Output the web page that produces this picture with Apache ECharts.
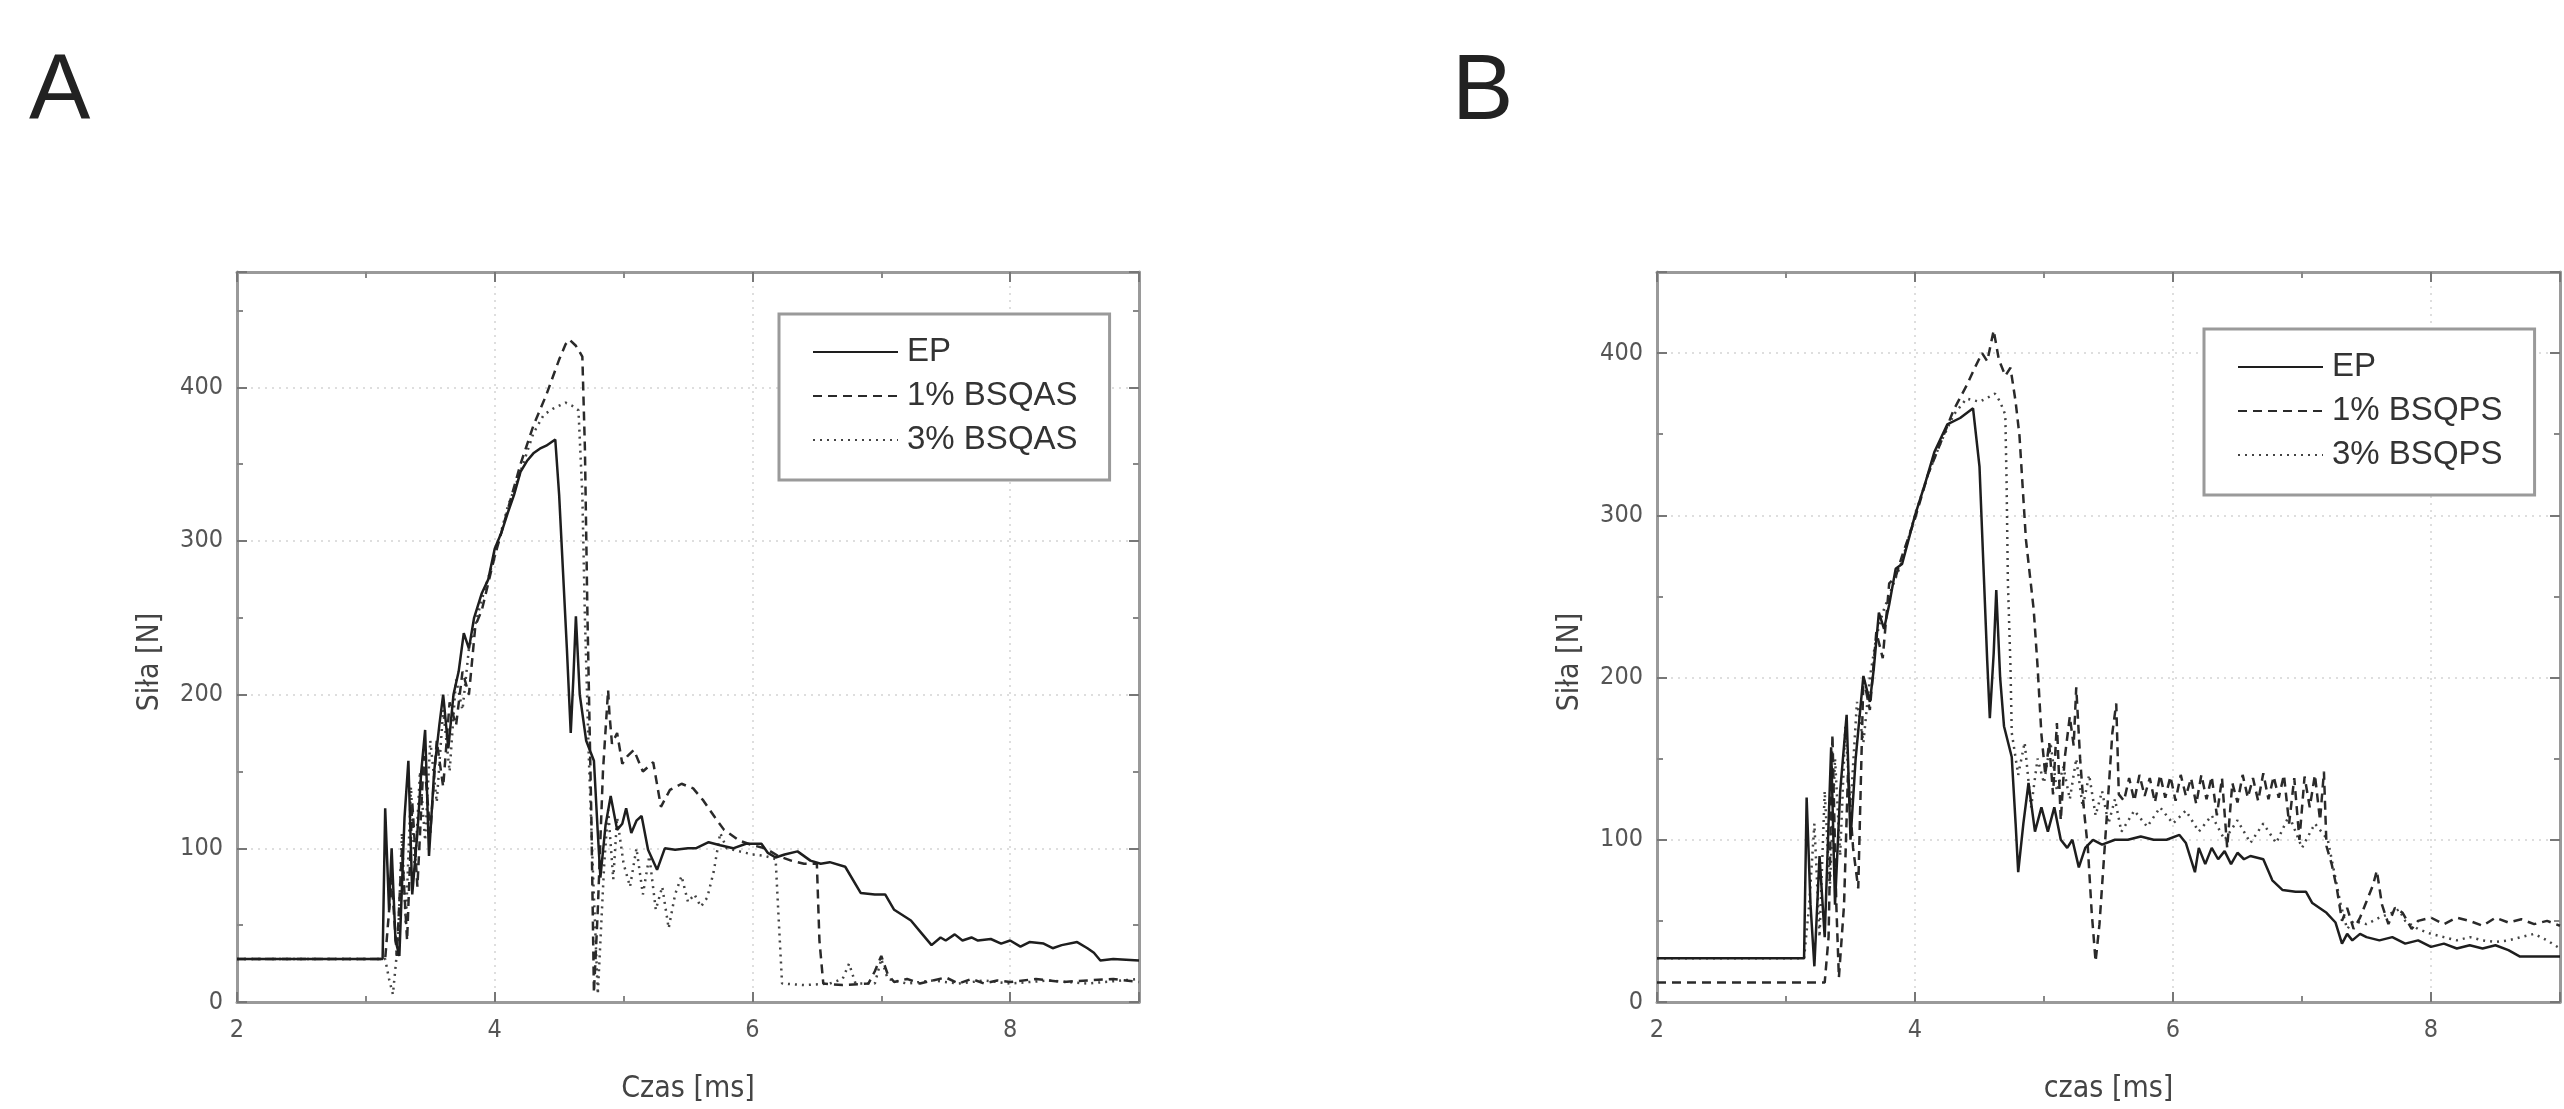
<!DOCTYPE html>
<html>
<head>
<meta charset="utf-8">
<script src="https://cdn.jsdelivr.net/npm/echarts@6/dist/echarts.min.js"></script>
<style>
html,body{margin:0;padding:0;background:#fff;}
#chart{width:2564px;height:1109px;}
</style>
</head>
<body>
<div id="chart"></div>
<script>
// ---------- DATA ----------
const xTicksA = [2, 4, 6, 8];
const yTicksA = [0, 100, 200, 300, 400];
const xTicksB = [2, 4, 6, 8];
const yTicksB = [0, 100, 200, 300, 400];

const namesA = ['EP', '1% BSQAS', '3% BSQAS'];
const namesB = ['EP', '1% BSQPS', '3% BSQPS'];

// Panel A: time [ms], force [N]
const epA = [[2,28],[3.13,28],[3.15,126],[3.18,60],[3.2,100],[3.23,40],[3.26,30],[3.3,120],[3.33,157],[3.36,70],[3.4,110],[3.43,150],[3.46,177],[3.49,95],[3.53,150],[3.57,180],[3.6,200],[3.64,165],[3.68,200],[3.72,215],[3.76,240],[3.8,230],[3.84,250],[3.9,266],[3.95,275],[4.0,295],[4.05,305],[4.1,318],[4.15,330],[4.2,345],[4.25,352],[4.3,357],[4.35,360],[4.4,362],[4.47,366],[4.5,330],[4.53,280],[4.56,230],[4.59,175],[4.61,210],[4.63,251],[4.66,200],[4.71,170],[4.77,157],[4.8,110],[4.82,81],[4.86,115],[4.9,134],[4.95,112],[4.99,116],[5.02,126],[5.06,110],[5.1,118],[5.14,121],[5.19,99],[5.26,86],[5.32,100],[5.4,99],[5.5,100],[5.56,100],[5.66,104],[5.75,102],[5.85,100],[5.95,103],[6.07,103],[6.12,97],[6.18,94],[6.25,96],[6.35,98],[6.45,92],[6.53,90],[6.6,91],[6.72,88],[6.84,71],[6.95,70],[7.03,70],[7.1,60],[7.23,53],[7.31,45],[7.39,37],[7.46,42],[7.5,40],[7.57,44],[7.63,40],[7.7,42],[7.75,40],[7.85,41],[7.93,38],[8.0,40],[8.08,36],[8.15,39],[8.26,38],[8.33,35],[8.4,37],[8.52,39],[8.6,35],[8.65,32],[8.7,27],[8.8,28],[9.0,27]];
const dashA = [[2,28],[3.15,28],[3.2,80],[3.24,30],[3.28,100],[3.32,40],[3.36,130],[3.4,75],[3.45,160],[3.5,110],[3.55,170],[3.6,140],[3.65,195],[3.7,180],[3.75,215],[3.8,200],[3.85,245],[3.9,255],[4.0,290],[4.1,320],[4.2,350],[4.3,375],[4.4,395],[4.5,418],[4.55,428],[4.58,431],[4.63,427],[4.68,420],[4.7,360],[4.72,250],[4.75,120],[4.77,6],[4.8,60],[4.84,150],[4.88,203],[4.89,188],[4.91,168],[4.95,175],[4.99,155],[5.03,160],[5.08,164],[5.15,150],[5.23,156],[5.29,127],[5.36,138],[5.45,142],[5.54,139],[5.62,131],[5.71,120],[5.78,112],[5.9,105],[6.0,102],[6.1,100],[6.2,95],[6.3,92],[6.4,90],[6.5,90],[6.52,40],[6.55,12],[6.7,11],[6.9,12],[6.95,20],[7.0,30],[7.05,18],[7.1,13],[7.2,15],[7.3,12],[7.4,14],[7.5,16],[7.6,12],[7.7,15],[7.8,12],[7.9,14],[8.0,13],[8.2,15],[8.4,13],[8.6,14],[8.8,15],[9.0,13]];
const dotA = [[2,28],[3.15,28],[3.18,15],[3.21,5],[3.25,40],[3.28,110],[3.31,50],[3.35,140],[3.38,85],[3.42,150],[3.46,105],[3.5,170],[3.55,130],[3.6,190],[3.65,150],[3.7,210],[3.75,190],[3.8,230],[3.9,262],[4.0,290],[4.1,322],[4.2,345],[4.3,370],[4.38,382],[4.45,386],[4.5,388],[4.55,390],[4.6,388],[4.65,385],[4.68,330],[4.7,250],[4.73,160],[4.76,90],[4.8,5],[4.85,90],[4.88,125],[4.92,80],[4.95,120],[5.0,90],[5.05,75],[5.1,100],[5.15,70],[5.2,95],[5.25,60],[5.3,75],[5.35,48],[5.4,70],[5.45,82],[5.5,65],[5.55,70],[5.6,62],[5.65,68],[5.7,85],[5.75,110],[5.8,100],[5.9,98],[6.0,96],[6.1,95],[6.18,93],[6.2,60],[6.23,12],[6.4,11],[6.6,12],[6.7,15],[6.75,25],[6.8,12],[6.95,12],[7.0,28],[7.05,15],[7.2,12],[7.4,14],[7.6,12],[7.8,14],[8.0,12],[8.3,14],[8.6,12],[9.0,15]];

// Panel B
const epB = [[2,27],[3.14,27],[3.16,126],[3.19,60],[3.22,22],[3.26,90],[3.3,40],[3.35,157],[3.38,60],[3.42,130],[3.47,177],[3.5,100],[3.54,150],[3.6,201],[3.65,185],[3.68,205],[3.72,240],[3.76,230],[3.8,245],[3.85,267],[3.9,270],[4.0,300],[4.08,320],[4.15,339],[4.25,356],[4.35,360],[4.45,366],[4.5,330],[4.53,270],[4.56,210],[4.58,175],[4.61,215],[4.63,254],[4.66,200],[4.69,170],[4.75,151],[4.78,110],[4.8,80],[4.84,110],[4.88,135],[4.93,105],[4.98,120],[5.03,105],[5.08,120],[5.13,100],[5.18,95],[5.22,100],[5.27,83],[5.32,95],[5.38,100],[5.45,97],[5.55,100],[5.65,100],[5.75,102],[5.85,100],[5.95,100],[6.05,103],[6.1,98],[6.17,80],[6.2,95],[6.25,85],[6.3,95],[6.35,88],[6.4,93],[6.45,85],[6.5,92],[6.55,88],[6.6,90],[6.7,88],[6.77,75],[6.85,69],[6.95,68],[7.03,68],[7.08,61],[7.19,55],[7.26,49],[7.31,36],[7.35,42],[7.39,38],[7.45,42],[7.5,40],[7.6,38],[7.7,40],[7.8,36],[7.9,38],[8.0,34],[8.1,36],[8.2,33],[8.3,35],[8.4,33],[8.5,35],[8.6,32],[8.69,28],[9.0,28]];
const dashB = [[2,12],[3.3,12],[3.33,40],[3.36,165],[3.39,60],[3.41,15],[3.45,60],[3.48,140],[3.52,95],[3.56,70],[3.6,200],[3.65,180],[3.7,228],[3.75,212],[3.8,258],[3.85,262],[3.9,275],[4.0,298],[4.1,325],[4.2,345],[4.3,365],[4.4,380],[4.47,392],[4.52,400],[4.56,395],[4.61,414],[4.65,396],[4.7,386],[4.74,391],[4.78,370],[4.81,349],[4.86,285],[4.92,242],[4.95,207],[4.98,165],[5.01,140],[5.04,160],[5.07,128],[5.1,172],[5.13,112],[5.16,150],[5.2,176],[5.23,158],[5.25,194],[5.28,150],[5.31,118],[5.34,95],[5.37,55],[5.4,25],[5.43,48],[5.46,83],[5.5,130],[5.53,166],[5.56,184],[5.58,128],[5.62,124],[5.66,138],[5.7,124],[5.74,140],[5.78,127],[5.82,138],[5.86,123],[5.9,140],[5.94,126],[5.98,139],[6.02,124],[6.06,140],[6.1,127],[6.14,138],[6.18,122],[6.22,140],[6.26,125],[6.3,139],[6.34,115],[6.38,138],[6.42,95],[6.46,135],[6.5,123],[6.54,140],[6.58,126],[6.62,138],[6.66,124],[6.7,141],[6.74,125],[6.78,139],[6.82,126],[6.86,140],[6.9,110],[6.94,138],[6.98,100],[7.02,139],[7.06,120],[7.1,140],[7.14,112],[7.17,142],[7.19,96],[7.23,85],[7.27,70],[7.31,50],[7.35,58],[7.4,45],[7.45,52],[7.5,62],[7.55,72],[7.58,81],[7.62,60],[7.67,48],[7.72,58],[7.78,55],[7.85,45],[7.9,50],[8.0,52],[8.1,48],[8.2,52],[8.3,50],[8.4,47],[8.5,52],[8.6,49],[8.7,51],[8.8,48],[8.9,50],[9.0,47]];
const dotB = [[2,27],[3.14,27],[3.18,60],[3.22,110],[3.26,40],[3.3,130],[3.34,70],[3.38,150],[3.42,90],[3.46,170],[3.5,120],[3.55,185],[3.6,160],[3.65,200],[3.7,225],[3.75,240],[3.82,255],[3.9,272],[4.0,300],[4.1,325],[4.2,345],[4.3,362],[4.4,372],[4.5,370],[4.55,372],[4.62,375],[4.66,370],[4.7,362],[4.71,320],[4.72,259],[4.74,207],[4.75,166],[4.8,140],[4.85,160],[4.9,120],[4.95,150],[5.0,135],[5.05,160],[5.1,130],[5.15,145],[5.2,125],[5.25,150],[5.3,120],[5.35,140],[5.4,115],[5.45,130],[5.5,110],[5.55,125],[5.6,105],[5.7,118],[5.8,108],[5.9,120],[6.0,110],[6.1,118],[6.2,105],[6.3,115],[6.4,100],[6.5,112],[6.6,98],[6.7,110],[6.8,98],[6.9,115],[7.0,95],[7.1,110],[7.2,100],[7.25,80],[7.3,60],[7.35,45],[7.4,50],[7.5,48],[7.6,52],[7.7,55],[7.75,57],[7.8,50],[7.9,45],[8.0,42],[8.1,40],[8.2,38],[8.3,40],[8.4,38],[8.5,37],[8.6,38],[8.7,40],[8.8,42],[8.9,38],[9.0,33]];

// ---------- CHART ----------
const NARROW = '"Liberation Sans Narrow","DejaVu Sans Condensed","Arial Narrow",sans-serif';
const SANS = '"Liberation Sans",Arial,sans-serif';
const FRAME = '#9a9a9a';

function xAx(grid, pos, name, ticks) {
  const main = pos === 'bottom';
  return {
    gridIndex: grid, type: 'value', position: pos, min: ticks[0], max: 9, interval: 2,
    name: main ? name : '', nameLocation: 'middle', nameGap: 72,
    nameTextStyle: {fontFamily: NARROW, fontSize: 30, color: '#444'},
    axisLine: {show: true, onZero: false, lineStyle: {color: FRAME, width: 3}},
    axisTick: {show: true, inside: true, length: 10, lineStyle: {color: '#777', width: 2}},
    minorTick: {show: true, splitNumber: 2, length: 6, lineStyle: {color: '#888', width: 2}},
    splitLine: {show: main, lineStyle: {color: '#d4d4d4', width: 1.5, type: [2, 5]}},
    axisLabel: {show: main, showMaxLabel: false, margin: 16, fontFamily: NARROW, fontSize: 25, color: '#555',
      formatter: v => ticks.includes(v) ? String(v) : ''}
  };
}
function yAx(grid, pos, max, ticks) {
  const main = pos === 'left';
  return {
    gridIndex: grid, type: 'value', position: pos, min: ticks[0], max: max, interval: 100,
    name: main ? 'Siła [N]' : '', nameLocation: 'middle', nameGap: 72, nameRotate: 90,
    nameTextStyle: {fontFamily: NARROW, fontSize: 30, color: '#444', padding: [0, 50, 0, 0]},
    axisLine: {show: true, onZero: false, lineStyle: {color: FRAME, width: 3}},
    axisTick: {show: true, inside: true, length: 10, lineStyle: {color: '#777', width: 2}},
    minorTick: {show: true, splitNumber: 2, length: 6, lineStyle: {color: '#888', width: 2}},
    splitLine: {show: main, lineStyle: {color: '#d4d4d4', width: 1.5, type: [2, 5]}},
    axisLabel: {show: main, showMaxLabel: false, margin: 14, fontFamily: NARROW, fontSize: 25, color: '#555',
      formatter: v => ticks.includes(v) ? String(v) : ''}
  };
}
const styles = [
  {color: '#1e1e1e', width: 2.5, type: 'solid'},
  {color: '#2a2a2a', width: 2.5, type: [9, 6]},
  {color: '#444', width: 2.5, type: [2, 5]}
];
function line(name, data, xi, yi, k) {
  return {type: 'line', name, data, xAxisIndex: xi, yAxisIndex: yi, symbol: 'none', showSymbol: false,
    lineStyle: styles[k], itemStyle: {color: styles[k].color}, z: 3 - k, animation: false};
}
function legend(left, top, names) {
  return {orient: 'vertical', left, top, data: names, itemWidth: 85, itemHeight: 14, itemGap: 8,
    padding: [20, 32, 22, 33], borderColor: FRAME, borderWidth: 3, backgroundColor: '#fff',
    selectedMode: false, itemStyle: {opacity: 0, borderWidth: 0},
    textStyle: {fontFamily: SANS, fontSize: 33, color: '#333', lineHeight: 36, padding: [0, 0, 0, 4]}};
}

const chart = echarts.init(document.getElementById('chart'), null, {renderer: 'canvas'});
chart.setOption({
  animation: false,
  backgroundColor: '#fff',
  title: [
    {text: 'A', left: 24, top: 43, textStyle: {fontFamily: SANS, fontSize: 92, fontWeight: 'normal', color: '#222'}},
    {text: 'B', left: 1447, top: 43, textStyle: {fontFamily: SANS, fontSize: 92, fontWeight: 'normal', color: '#222'}}
  ],
  grid: [
    {left: 237, top: 272, width: 902, height: 730},
    {left: 1657, top: 272, width: 903, height: 730}
  ],
  xAxis: [
    xAx(0, 'bottom', 'Czas [ms]', xTicksA), xAx(0, 'top', '', xTicksA),
    xAx(1, 'bottom', 'czas [ms]', xTicksB), xAx(1, 'top', '', xTicksB)
  ],
  yAxis: [
    yAx(0, 'left', 475, yTicksA), yAx(0, 'right', 475, yTicksA),
    yAx(1, 'left', 450, yTicksB), yAx(1, 'right', 450, yTicksB)
  ],
  legend: [legend(779, 314, namesA), legend(2204, 329, namesB)],
  series: [
    line(namesA[0], epA, 0, 0, 0), line(namesA[1], dashA, 0, 0, 1), line(namesA[2], dotA, 0, 0, 2),
    line(namesB[0], epB, 2, 2, 0), line(namesB[1], dashB, 2, 2, 1), line(namesB[2], dotB, 2, 2, 2)
  ]
});
</script>
</body>
</html>
